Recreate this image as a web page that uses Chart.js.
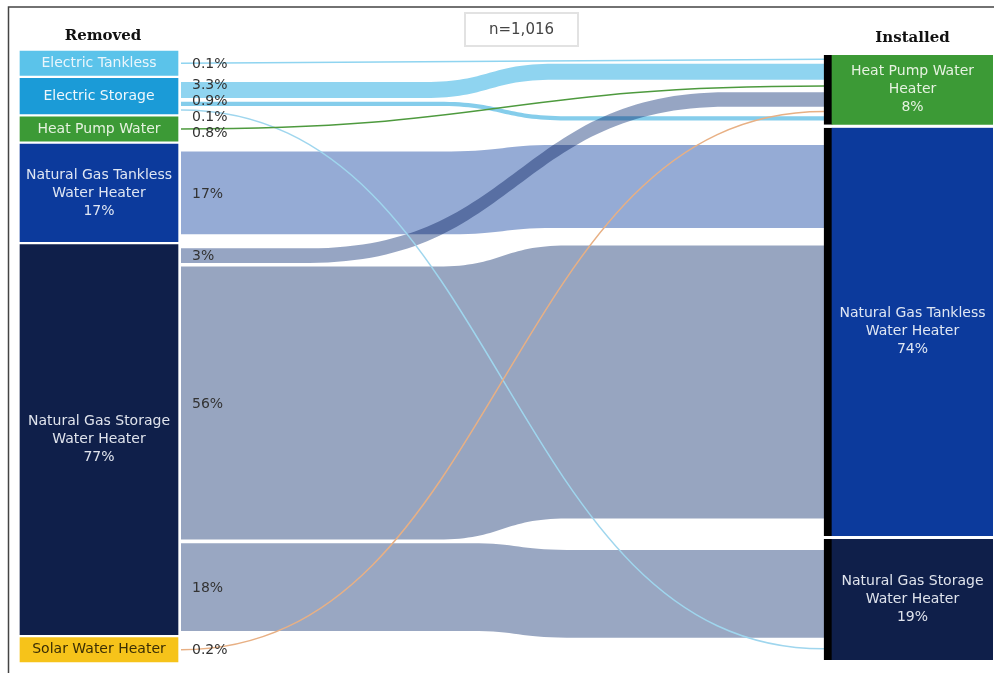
<!DOCTYPE html>
<html>
<head>
<meta charset="utf-8">
<script src="https://cdn.jsdelivr.net/npm/chart.js@4.4.1/dist/chart.umd.min.js"></script>
<style>
html, body { margin: 0; padding: 0; background: #fff; }
#wrap { position: relative; width: 994px; height: 673px; }
</style>
</head>
<body>
<div id="wrap"><canvas id="sankey" width="994" height="673"></canvas></div>
<script>
// nodes (left = removed, right = installed)
var removedNames = ['Electric Tankless', 'Electric Storage', 'Heat Pump Water', 'Natural Gas Tankless Water Heater', 'Natural Gas Storage Water Heater', 'Solar Water Heater'];
var removedShare = [null, null, null, 17, 77, null];
var installedNames = ['Heat Pump Water Heater', 'Natural Gas Tankless Water Heater', 'Natural Gas Storage Water Heater'];
var installedShare = [8, 74, 19];

// flows: removed index -> installed index, % of sites
var flowFrom  = [0, 1, 1, 1, 2, 3, 4, 4, 4, 5];
var flowTo    = [0, 0, 0, 2, 0, 1, 0, 1, 2, 0];
var flowValue = [0.1, 3.3, 0.9, 0.1, 0.8, 17, 3, 56, 18, 0.2];

var sampleSize = 1016;

// look
var removedColours = ['#5bc3ea', '#1b9bd7', '#3c9a36', '#0c3a9c', '#0f1f4a', '#f6c31a'];
var removedText = ['#eaf6fc', '#eef7fc', '#e6f2e0', '#dfe6f3', '#dfe3ec', '#3a2e05'];
var installedColours = ['#3c9a36', '#0c3a9c', '#0f1f4a'];
var installedText = ['#e6f2e0', '#dfe6f3', '#dfe3ec'];
var flowColours = ['#8fd4f0', '#8fd4f0', '#85cdeb', '#9fd6ee', '#4e9a3e', '#95abd5', '#96a5c3', '#97a5c0', '#99a7c2', '#e8b084'];
var flowBend = [[0, 1], [0.38, 0.58], [0.4, 0.6], [0, 1], [0, 1], [0.42, 0.58], [0.2, 0.85], [0.4, 0.6], [0.45, 0.6], [0, 1]];
var flowArrival = [0, 1, 5, 1, 2, 0, 3, 1, 0, 4];

var LEFT_W = 158, RIGHT_W = 169, STRIP = 8;
var GAP = 0.6, MIN_NODE = 5, PAD = 3;
var THIN = 4.2; // px: narrower flows are drawn as a hairline

var add = function(a, b) { return a + b; };

var outSum = removedNames.map(function(n, i) {
	var s = 0;
	flowValue.forEach(function(v, f) { if (flowFrom[f] === i) s += v; });
	return s;
});
var inSum = installedNames.map(function(n, i) {
	var s = 0;
	flowValue.forEach(function(v, f) { if (flowTo[f] === i) s += v; });
	return s;
});

// left column stacked from the top
var leftNodes = [];
var y = 0;
outSum.forEach(function(s) {
	var h = Math.max(MIN_NODE, s + PAD);
	leftNodes.push([y, y + h]);
	y += h + GAP;
});
var totalUnits = y - GAP;

// right column stretched to the same height
var rTop = 0.8, rBottom = totalUnits - 0.4;
var base = inSum.map(function(s) { return s + PAD; });
var spare = (rBottom - rTop) - GAP * (base.length - 1) - base.reduce(add, 0);
var inTotal = inSum.reduce(add, 0);
var rightNodes = [];
y = rTop;
base.forEach(function(b, i) {
	var h = b + spare * (0.5 * inSum[i] / inTotal + 0.5 / base.length);
	rightNodes.push([y, y + h]);
	y += h + GAP;
});

var slots = function(nodes, nodeOf, order) {
	var res = [];
	nodes.forEach(function(nd, n) {
		var list = [];
		flowValue.forEach(function(v, f) { if (nodeOf[f] === n) list.push(f); });
		list.sort(function(a, b) { return order[a] - order[b]; });
		var used = list.reduce(function(s, f) { return s + flowValue[f]; }, 0);
		var gap = (nd[1] - nd[0] - used) / (list.length + 1);
		var pos = nd[0] + gap;
		list.forEach(function(f) {
			res[f] = [pos, pos + flowValue[f]];
			pos += flowValue[f] + gap;
		});
	});
	return res;
};
var srcSlots = slots(leftNodes, flowFrom, flowFrom.map(function(_, i) { return i; }));
var dstSlots = slots(rightNodes, flowTo, flowArrival);

var wrapText = function(c, text, maxW) {
	var words = text.split(' ');
	var lines = [];
	var line = '';
	words.forEach(function(w) {
		var test = line ? line + ' ' + w : w;
		if (line && c.measureText(test).width > maxW) {
			lines.push(line);
			line = w;
		} else {
			line = test;
		}
	});
	if (line) lines.push(line);
	return lines;
};

var flowPlugin = {
	id: 'flows',
	beforeDraw: function(chart) {
		var c = chart.ctx;
		c.save();
		c.fillStyle = '#fff';
		c.fillRect(0, 0, chart.width, chart.height);
		c.restore();
	},
	beforeDatasetsDraw: function(chart) {
		var c = chart.ctx, xs = chart.scales.x, ys = chart.scales.y;
		var x0 = xs.getPixelForValue(0) + LEFT_W / 2 + 3;
		var x1 = xs.getPixelForValue(1) - RIGHT_W / 2;
		var geo = flowValue.map(function(v, f) {
			var a = srcSlots[f], b = dstSlots[f];
			var g = {
				t0: ys.getPixelForValue(a[0]), b0: ys.getPixelForValue(a[1]),
				t1: ys.getPixelForValue(b[0]), b1: ys.getPixelForValue(b[1]),
				xa: x0 + (x1 - x0) * flowBend[f][0],
				xb: x0 + (x1 - x0) * flowBend[f][1]
			};
			g.xm = (g.xa + g.xb) / 2;
			return g;
		});
		c.save();
		// wide bands blend where they overlap
		c.globalCompositeOperation = 'multiply';
		geo.forEach(function(g, f) {
			if (g.b0 - g.t0 < THIN) return;
			c.beginPath();
			c.moveTo(x0, g.t0);
			c.lineTo(g.xa, g.t0);
			c.bezierCurveTo(g.xm, g.t0, g.xm, g.t1, g.xb, g.t1);
			c.lineTo(x1, g.t1);
			c.lineTo(x1, g.b1);
			c.lineTo(g.xb, g.b1);
			c.bezierCurveTo(g.xm, g.b1, g.xm, g.b0, g.xa, g.b0);
			c.lineTo(x0, g.b0);
			c.closePath();
			c.fillStyle = flowColours[f];
			c.fill();
		});
		c.globalCompositeOperation = 'source-over';
		// hairlines on top
		geo.forEach(function(g, f) {
			if (g.b0 - g.t0 >= THIN) return;
			var m0 = (g.t0 + g.b0) / 2, m1 = (g.t1 + g.b1) / 2;
			c.beginPath();
			c.moveTo(x0, m0);
			c.lineTo(g.xa, m0);
			c.bezierCurveTo(g.xm, m0, g.xm, m1, g.xb, m1);
			c.lineTo(x1, m1);
			c.strokeStyle = flowColours[f];
			c.lineWidth = 1.5;
			c.stroke();
		});
		c.restore();
	},
	afterDatasetsDraw: function(chart) {
		var c = chart.ctx, xs = chart.scales.x, ys = chart.scales.y;
		var lx = xs.getPixelForValue(0), rx = xs.getPixelForValue(1) + STRIP / 2;
		c.save();
		c.textAlign = 'center';
		c.textBaseline = 'middle';
		c.font = '14px "DejaVu Sans"';

		var drawNode = function(nd, name, share, colour, cx, w) {
			var lines = wrapText(c, name, w - 8);
			if (share !== null) lines.push(share + '%');
			var cy = (ys.getPixelForValue(nd[0]) + ys.getPixelForValue(nd[1])) / 2;
			var lh = 18;
			c.fillStyle = colour;
			lines.forEach(function(l, k) {
				c.fillText(l, cx, cy + (k - (lines.length - 1) / 2) * lh);
			});
		};
		leftNodes.forEach(function(nd, i) {
			drawNode(nd, removedNames[i], removedShare[i], removedText[i], lx, LEFT_W);
		});
		rightNodes.forEach(function(nd, i) {
			drawNode(nd, installedNames[i], installedShare[i], installedText[i], rx, RIGHT_W - STRIP);
		});

		// flow value labels next to the left column, nudged apart
		var labels = flowValue.map(function(v, f) {
			return { text: v + '%', y: (ys.getPixelForValue(srcSlots[f][0]) + ys.getPixelForValue(srcSlots[f][1])) / 2 };
		});
		labels.sort(function(a, b) { return a.y - b.y; });
		for (var it = 0; it < 60; it++) {
			for (var k = 1; k < labels.length; k++) {
				var d = labels[k].y - labels[k - 1].y;
				if (d < 16) {
					labels[k].y += (16 - d) / 2;
					labels[k - 1].y -= (16 - d) / 2;
				}
			}
		}
		c.textAlign = 'left';
		c.font = '14px "DejaVu Sans"';
		c.fillStyle = '#333';
		labels.forEach(function(l) {
			c.fillText(l.text, lx + LEFT_W / 2 + 14, l.y + 1);
		});

		// column headers
		c.textAlign = 'center';
		c.font = 'bold 15px "DejaVu Serif"';
		c.fillStyle = '#111';
		c.fillText('Removed', lx + 4, 36);
		c.fillText('Installed', rx, 38);

		// sample size box
		c.strokeStyle = '#e2e2e2';
		c.lineWidth = 2;
		c.strokeRect(465, 13, 113, 33);
		c.font = '15px "DejaVu Sans"';
		c.fillStyle = '#444';
		c.fillText('n=' + sampleSize.toLocaleString('en-US'), 521.5, 30.5);

		// frame
		c.strokeStyle = '#444';
		c.lineWidth = 1.5;
		c.beginPath();
		c.moveTo(994, 7);
		c.lineTo(8.5, 7);
		c.lineTo(8.5, 673);
		c.stroke();
		c.restore();
	}
};

var ctx = document.getElementById('sankey').getContext('2d');
var config = {
	type: 'bar',
	data: {
		datasets: [{
			label: 'Removed',
			data: leftNodes.map(function(nd) { return { x: 0, y: nd }; }),
			backgroundColor: removedColours,
			borderWidth: 0,
			barThickness: LEFT_W,
			stack: 'nodes',
			clip: false
		}, {
			label: 'Installed',
			data: rightNodes.map(function(nd) { return { x: 1, y: nd }; }),
			backgroundColor: installedColours,
			borderColor: '#000',
			borderWidth: { left: STRIP, top: 0, right: 0, bottom: 0 },
			borderSkipped: false,
			barThickness: RIGHT_W,
			stack: 'nodes',
			clip: false
		}]
	},
	options: {
		responsive: false,
		animation: false,
		devicePixelRatio: 1,
		events: [],
		layout: { padding: { left: 20 + LEFT_W / 2, right: 1 + RIGHT_W / 2, top: 51, bottom: 11 } },
		scales: {
			x: { type: 'linear', min: 0, max: 1, display: false, offset: false },
			y: { type: 'linear', min: 0, max: totalUnits, reverse: true, display: false }
		},
		plugins: {
			legend: { display: false },
			tooltip: { enabled: false }
		}
	},
	plugins: [flowPlugin]
};
window.sankeyChart = new Chart(ctx, config);
</script>
</body>
</html>
